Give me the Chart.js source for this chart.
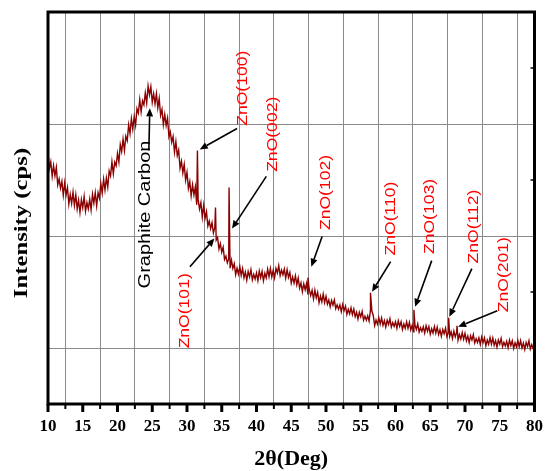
<!DOCTYPE html>
<html>
<head>
<meta charset="utf-8">
<script src="https://cdn.jsdelivr.net/npm/chart.js@4/dist/chart.umd.min.js"></script>
<style>
  html, body { margin: 0; padding: 0; background: #fff; }
  canvas { display: block; }
</style>
</head>
<body>
<canvas id="xrd" width="555" height="471"></canvas>
<script>
// scan: 10 to 80 deg, step 0.2
var scanStart = 10;
var scanStep = 0.2;
var intensity = [
  2748, 2603, 2662, 2533, 2629,  2537, 2613, 2456, 2509, 2427,
  2488, 2364, 2474, 2366, 2431,  2285, 2371, 2291, 2392, 2274,
  2368, 2242, 2320, 2210, 2325,  2252, 2353, 2221, 2299, 2242,
  2328, 2233, 2372, 2293, 2387,  2270, 2387, 2338, 2470, 2383,
  2508, 2411, 2518, 2437, 2581,  2537, 2663, 2556, 2659, 2627,
  2738, 2660, 2816, 2754, 2865,  2765, 2891, 2851, 2992, 2914,
  3048, 2955, 3066, 2989, 3137,  3097, 3219, 3108, 3207, 3171,
  3278, 3187, 3340, 3260, 3333,  3195, 3271, 3181, 3272, 3144,
  3228, 3077, 3130, 2995, 3085,  2987, 3053, 2886, 2929, 2837,
  2888, 2748, 2842, 2718, 2767,  2605, 2667, 2563, 2640, 2498,
  2568, 2425, 2486, 2359, 2457,  2367, 2439, 2278, 2327, 2241,
  2298, 2168, 2272, 2158, 2217,  2090, 2133, 2066, 2119, 2027,
  2075, 1963, 1986, 1884, 1932,  1855, 1900, 1790, 1820, 1760,
  1795, 1712, 1784, 1711, 1753,  1655, 1712, 1659, 1726, 1648,
  1710, 1627, 1679, 1606, 1683,  1635, 1699, 1608, 1657, 1616,
  1670, 1601, 1687, 1628, 1684,  1600, 1668, 1626, 1704, 1637,
  1710, 1634, 1693, 1627, 1711,  1670, 1736, 1647, 1696, 1654,
  1705, 1625, 1700, 1630, 1675,  1580, 1635, 1580, 1645, 1565,
  1625, 1536, 1582, 1503, 1574,  1520, 1576, 1477, 1518, 1469,
  1515, 1438, 1516, 1449, 1497,  1405, 1464, 1413, 1482, 1406,
  1461, 1391, 1429, 1367, 1425,  1383, 1429, 1351, 1385, 1347,
  1385, 1324, 1387, 1334, 1373,  1300, 1346, 1305, 1359, 1298,
  1348, 1280, 1319, 1259, 1318,  1278, 1326, 1249, 1285, 1248,
  1288, 1240, 1340, 1330, 1290,  1200, 1250, 1213, 1271, 1214,
  1268, 1202, 1244, 1186, 1248,  1210, 1261, 1188, 1227, 1194,
  1235, 1177, 1243, 1193, 1235,  1165, 1214, 1176, 1233, 1175,
  1228, 1161, 1202, 1144, 1205,  1166, 1216, 1143, 1181, 1148,
  1190, 1133, 1199, 1150, 1192,  1123, 1172, 1134, 1191, 1133,
  1186, 1120, 1162, 1104, 1166,  1128, 1177, 1102, 1139, 1104,
  1145, 1086, 1151, 1100, 1141,  1070, 1119, 1080, 1137, 1078,
  1131, 1065, 1106, 1048, 1109,  1071, 1120, 1046, 1083, 1049,
  1090, 1032, 1098, 1048, 1090,  1020, 1071, 1033, 1092, 1034,
  1089, 1024, 1066, 1009, 1071,  1034, 1085, 1012, 1051, 1018,
  1060, 1003, 1071, 1022, 1065,  996, 1047, 1010, 1068, 1011,
  1066, 1001, 1044, 987, 1050,   1013, 1064, 991, 1030, 997,
  1020
];

// sharp ZnO reflections
var peakPos = [31.5, 34.1, 36.05, 47.4, 56.4, 62.65, 67.65, 68.85];
var peakTop = [2764, 2254, 2433, 1628, 1493, 1340, 1270, 1198];
var peakLabels = ['ZnO(100)', 'ZnO(101)', 'ZnO(002)', 'ZnO(102)', 'ZnO(110)', 'ZnO(103)', 'ZnO(112)', 'ZnO(201)'];

var xTickValues = [10, 15, 20, 25, 30, 35, 40, 45, 50, 55, 60, 65, 70, 75, 80];
var yGridValues = [1000, 2000, 3000];

// label placement (data units): label centre, arrow tail, arrow tip
var labelSpots = [
    {lx: 38.0, ly: 3319, tx: 37.2, ty: 2960, hx: 31.83, hy: 2773},
    {lx: 29.72, ly: 1332, tx: 30.42, ty: 1726, hx: 33.94, hy: 1977},
    {lx: 42.39, ly: 2908, tx: 41.41, ty: 2532, hx: 36.48, hy: 2066},
    {lx: 50.0, ly: 2388, tx: 49.44, ty: 1995, hx: 47.89, hy: 1726},
    {lx: 59.3, ly: 2156, tx: 59.3, ty: 1771, hx: 56.62, hy: 1502},
    {lx: 64.93, ly: 2174, tx: 65.21, ty: 1780, hx: 62.82, hy: 1368},
    {lx: 71.27, ly: 2084, tx: 70.99, ty: 1708, hx: 67.75, hy: 1279},
    {lx: 75.63, ly: 1655, tx: 74.65, ty: 1332, hx: 69.01, hy: 1189}
];
var carbonSpot = {lx: 24.08, ly: 2192, tx: 24.51, ty: 2764, hx: 24.65, hy: 3140};

var points = intensity.map(function (v, i) {
    return {x: +(scanStart + i * scanStep).toFixed(2), y: v};
});
peakPos.forEach(function (p, i) {
    points.push({x: p, y: peakTop[i]});
});
points.sort(function (a, b) { return a.x - b.x; });

function vText(ctx, text, x, y, font, color, stretch) {
    ctx.save();
    ctx.translate(x, y);
    ctx.rotate(-Math.PI / 2);
    ctx.scale(stretch, 1);
    ctx.font = font;
    ctx.fillStyle = color;
    ctx.textAlign = 'center';
    ctx.textBaseline = 'middle';
    ctx.fillText(text, 0, 0);
    ctx.restore();
}

function arrow(ctx, x1, y1, x2, y2) {
    var ang = Math.atan2(y2 - y1, x2 - x1);
    var len = 8, half = 3.5;
    var bx = x2 - len * Math.cos(ang), by = y2 - len * Math.sin(ang);
    ctx.save();
    ctx.strokeStyle = '#000';
    ctx.fillStyle = '#000';
    ctx.lineWidth = 1.6;
    ctx.beginPath();
    ctx.moveTo(x1, y1);
    ctx.lineTo(bx, by);
    ctx.stroke();
    ctx.beginPath();
    ctx.moveTo(x2, y2);
    ctx.lineTo(bx + half * Math.sin(ang), by - half * Math.cos(ang));
    ctx.lineTo(bx - half * Math.sin(ang), by + half * Math.cos(ang));
    ctx.closePath();
    ctx.fill();
    ctx.restore();
}

var decor = {
    id: 'decor',
    afterDraw: function (chart) {
        var ctx = chart.ctx;
        var a = chart.chartArea;
        var xs = chart.scales.x, ys = chart.scales.y;

        // frame
        ctx.save();
        ctx.strokeStyle = '#000';
        ctx.lineWidth = 3;
        ctx.strokeRect(a.left, a.top, a.right - a.left, a.bottom - a.top);

        // bottom ticks
        for (var v = 10; v <= 80; v += 2.5) {
            var px = xs.getPixelForValue(v);
            var major = v % 5 === 0;
            ctx.lineWidth = major ? 3 : 2;
            ctx.beginPath();
            ctx.moveTo(px, a.bottom);
            ctx.lineTo(px, a.bottom + (major ? 8 : 5));
            ctx.stroke();
        }
        // right minor ticks
        ctx.lineWidth = 1.5;
        [1500, 2500, 3500].forEach(function (t) {
            var py = ys.getPixelForValue(t);
            ctx.beginPath();
            ctx.moveTo(a.right, py);
            ctx.lineTo(a.right - 4, py);
            ctx.stroke();
        });
        ctx.restore();

        // annotations
        var s = carbonSpot;
        vText(ctx, 'Graphite Carbon', xs.getPixelForValue(s.lx), ys.getPixelForValue(s.ly),
            '16px "Liberation Sans", Arial, sans-serif', '#000', 1.25);
        arrow(ctx, xs.getPixelForValue(s.tx), ys.getPixelForValue(s.ty),
            xs.getPixelForValue(s.hx), ys.getPixelForValue(s.hy));

        peakLabels.forEach(function (lab, i) {
            var sp = labelSpots[i];
            vText(ctx, lab, xs.getPixelForValue(sp.lx), ys.getPixelForValue(sp.ly),
                '15px "Liberation Sans", Arial, sans-serif', '#ff0000', 1.17);
            arrow(ctx, xs.getPixelForValue(sp.tx), ys.getPixelForValue(sp.ty),
                xs.getPixelForValue(sp.hx), ys.getPixelForValue(sp.hy));
        });

        // axis titles
        vText(ctx, 'Intensity (cps)', 22, (a.top + a.bottom) / 2 + 15,
            'bold 19px "Liberation Serif", "Times New Roman", serif', '#000', 1.3);
        ctx.save();
        ctx.font = 'bold 22px "Liberation Serif", "Times New Roman", serif';
        ctx.fillStyle = '#000';
        ctx.textAlign = 'center';
        ctx.textBaseline = 'middle';
        ctx.fillText('2\u03b8(Deg)', (a.left + a.right) / 2, 459);
        ctx.restore();
    }
};

var ctx = document.getElementById('xrd').getContext('2d');

var chart = new Chart(ctx, {
    type: 'line',
    data: {
        datasets: [{
            data: points,
            borderColor: '#8b0000',
            borderWidth: 1.4,
            pointRadius: 0,
            tension: 0,
            fill: false
        }]
    },
    options: {
        responsive: false,
        animation: false,
        devicePixelRatio: 1,
        layout: { padding: { top: 12, right: 10, left: 0, bottom: 0 } },
        plugins: {
            legend: { display: false },
            tooltip: { enabled: false }
        },
        scales: {
            x: {
                type: 'linear',
                min: 10,
                max: 80,
                afterBuildTicks: function (scale) {
                    var t = [];
                    for (var v = 10; v <= 80; v += 2.5) t.push({value: v});
                    scale.ticks = t;
                },
                ticks: {
                    autoSkip: false,
                    maxRotation: 0,
                    padding: 12,
                    color: '#000',
                    font: { family: '"Liberation Serif", "Times New Roman", serif', size: 17, weight: 'bold' },
                    callback: function (v) {
                        return xTickValues.indexOf(v) >= 0 ? String(v) : '';
                    }
                },
                grid: {
                    drawTicks: false,
                    color: function (c) {
                        return (c.tick && c.tick.value % 5 !== 0) ? '#8a8a8a' : 'rgba(0,0,0,0)';
                    }
                },
                border: { display: false },
                afterFit: function (scale) { scale.height = 67; }
            },
            y: {
                min: 500,
                max: 4000,
                afterBuildTicks: function (scale) {
                    scale.ticks = yGridValues.map(function (v) { return {value: v}; });
                },
                ticks: { display: false },
                grid: {
                    drawTicks: false,
                    color: '#8a8a8a'
                },
                border: { display: false },
                afterFit: function (scale) { scale.width = 48; }
            }
        }
    },
    plugins: [decor]
});
</script>
</body>
</html>
